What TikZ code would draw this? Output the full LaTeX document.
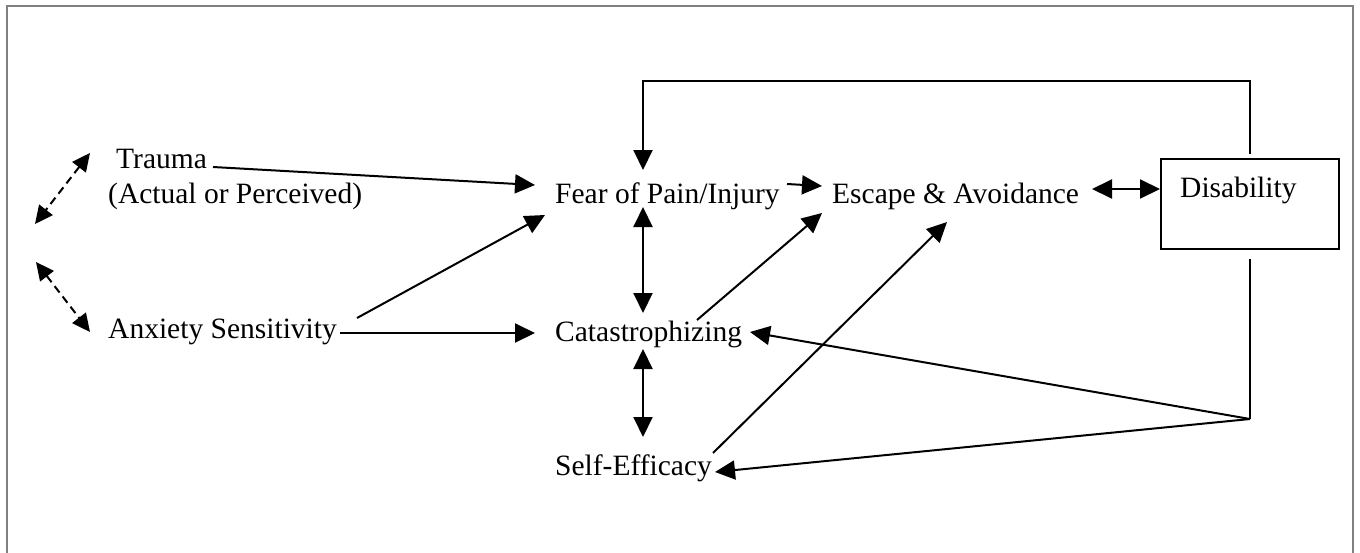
\documentclass[tikz,border=0pt]{standalone}
\usepackage{fontspec}
\setmainfont{Liberation Serif}
\usetikzlibrary{arrows.meta,calc}
\begin{document}
\begin{tikzpicture}[x=1pt,y=-1pt,
  lbl/.style={anchor=base west,inner sep=0pt,font=\fontsize{29.5}{34}\selectfont},
  conn/.style={line width=2pt,black},
  arr/.style={conn,-{Triangle[length=20pt,width=19pt]}},
  darr/.style={conn,{Triangle[length=20pt,width=19pt]}-{Triangle[length=20pt,width=19pt]}},
  dasharr/.style={conn,dash pattern=on 8pt off 5pt,{Triangle[length=18pt,width=17pt]}-{Triangle[length=18pt,width=17pt]}},
  boxnode/.style={draw,line width=2pt,minimum width=178pt,minimum height=90pt,inner sep=0pt}]
\useasboundingbox (0,0) rectangle (1360,552);
\clip (0,0) rectangle (1360,552);
\draw[line width=2.2pt,gray] (7,570) -- (7,6) -- (1353,6) -- (1353,570);

\node[lbl] (trauma) at (116,168) {Trauma};
\node[lbl] (actual) at (108,203) {(Actual or Perceived)};
\node[lbl] (anx) at (108,338) {Anxiety Sensitivity};
\node[lbl] (fear) at (555,203) {Fear of Pain/Injury};
\node[lbl] (cat) at (555,341) {Catastrophizing};
\node[lbl] (se) at (555,475) {Self-Efficacy};
\node[lbl] (esc) at (832,203) {Escape \& Avoidance};
\node[boxnode] (dis) at (1250,204) {};
\node[lbl] (distext) at (1180,197) {Disability};
\coordinate (fb) at (1250,419);

% dashed
\draw[dasharr] ($(trauma.base west)+(-26,-15)$) -- ($(trauma.base west)+(-81,56)$);
\draw[dasharr] ($(anx.base west)+(-72,-76)$) -- ($(anx.base west)+(-18,-6)$);

% to fear
\draw[arr] ($(trauma.base west)+(97,-1)$) -- ($(fear.base west)+(-20,-18)$);
\draw[arr] ($(anx.base west)+(249,-20)$) -- ($(fear.base west)+(-10,12)$);
\draw[arr] ($(anx.base west)+(232,-5)$) -- ($(cat.base west)+(-20,-8)$);

% fear - cat - se
\draw[darr] ($(fear.base west)+(88,4)$) -- ($(cat.base west)+(88,-28)$);
\draw[darr] ($(cat.base west)+(88,8)$) -- ($(se.base west)+(88,-38)$);

% to escape
\draw[arr] ($(fear.base west)+(232,-19)$) -- ($(esc.base west)+(-10,-17)$);
\draw[arr] ($(cat.base west)+(142,-21)$) -- ($(esc.base west)+(-10,10)$);
\draw[arr] ($(se.base west)+(158,-22)$) -- ($(esc.base west)+(115,19)$);

% escape <-> disability
\draw[darr] ($(esc.base west)+(260,-14)$) -- ($(dis.west)+(0,-15)$);

% feedback loop top
\draw[arr] ($(dis.north)+(0,-4)$) -- ++(0,-73) -| ($(fear.base west)+(88,-33)$);

% feedback bottom
\draw[conn] ($(dis.south)+(0,9)$) -- (fb);
\draw[arr] (fb) -- ($(cat.base west)+(195,-9)$);
\draw[arr] (fb) -- ($(se.base west)+(160,-3)$);
\end{tikzpicture}
\end{document}
